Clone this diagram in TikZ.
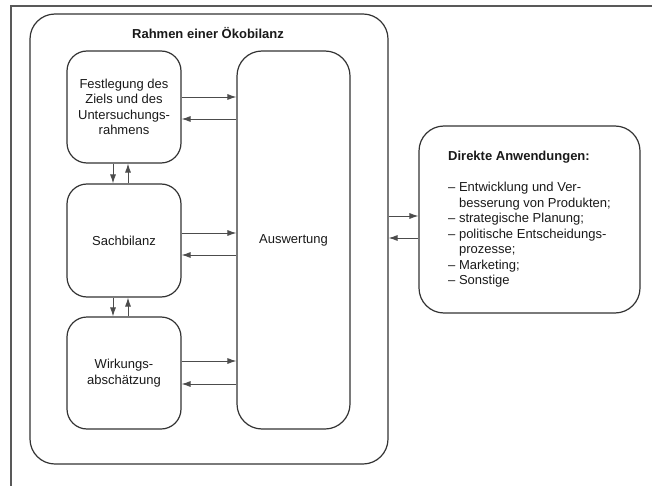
\documentclass[tikz,border=0pt]{standalone}
\usepackage{fontspec}
\setmainfont{Liberation Sans}
\usetikzlibrary{arrows.meta}

\begin{document}
\begin{tikzpicture}[x=1pt,y=-1pt,
    every node/.style={font=\fontsize{13}{15.5}\selectfont,text=black!90},
    phase/.style={draw=black!80,line width=1.2pt,rounded corners=20pt,align=center,
        minimum width=114pt,minimum height=112pt},
    frame/.style={draw=black!80,line width=1.2pt,rounded corners=25pt},
    arr/.style={draw=black!70,line width=0.8pt,-{Latex[length=9pt,width=6pt]}}]
    \useasboundingbox (0,0) rectangle (652,486);
    % page edge
    \draw[black!65,line width=2pt] (11,486) -- (11,6) -- (652,6);

    % frame
    \node[frame,minimum width=358pt,minimum height=450pt] (rahmen) at (209,239) {};
    \node (titel) at (208,33) {\textbf{Rahmen einer Ökobilanz}};

    % phases
    \node[phase] (fest) at (124,107) {Festlegung des\\Ziels und des\\Untersuchungs-\\rahmens};
    \node[phase,minimum height=113pt] (sach) at (124,240.5) {Sachbilanz};
    \node[phase] (wirk) at (124,373) {Wirkungs-\\abschätzung};
    \node[phase,rounded corners=25pt,minimum width=113pt,minimum height=378pt] (ausw) at (293.5,240) {Auswertung};

    % applications
    \node[frame,align=left,minimum width=221pt,minimum height=187pt] (anw) at (529.5,219.5)
        {\textbf{Direkte Anwendungen:}\\[15.5pt]
         -- Entwicklung und Ver-\\
         \phantom{--~}besserung von Produkten;\\
         -- strategische Planung;\\
         -- politische Entscheidungs-\\
         \phantom{--~}prozesse;\\
         -- Marketing;\\
         -- Sonstige};

    % arrows to and from Auswertung
    \draw[arr] ([yshift=10pt]fest.east) -- ([yshift=10pt]fest.east -| ausw.west);
    \draw[arr] ([yshift=-12pt]fest.east -| ausw.west) -- ([yshift=-12pt]fest.east);
    \draw[arr] ([yshift=7.5pt]sach.east) -- ([yshift=7.5pt]sach.east -| ausw.west);
    \draw[arr] ([yshift=-14.5pt]sach.east -| ausw.west) -- ([yshift=-14.5pt]sach.east);
    \draw[arr] ([yshift=12pt]wirk.east) -- ([yshift=12pt]wirk.east -| ausw.west);
    \draw[arr] ([yshift=-11pt]wirk.east -| ausw.west) -- ([yshift=-11pt]wirk.east);

    % arrows between phases
    \draw[arr] ([xshift=-11pt]fest.south) -- ([xshift=-11pt]sach.north);
    \draw[arr] ([xshift=4pt]sach.north) -- ([xshift=4pt]fest.south);
    \draw[arr] ([xshift=-11pt]sach.south) -- ([xshift=-11pt]wirk.north);
    \draw[arr] ([xshift=4pt]wirk.north) -- ([xshift=4pt]sach.south);

    % arrows to and from applications
    \draw[arr] ([yshift=3.5pt]anw.west -| rahmen.east) -- ([yshift=3.5pt]anw.west);
    \draw[arr] ([yshift=-18.5pt]anw.west) -- ([yshift=-18.5pt]anw.west -| rahmen.east);
\end{tikzpicture}
\end{document}
